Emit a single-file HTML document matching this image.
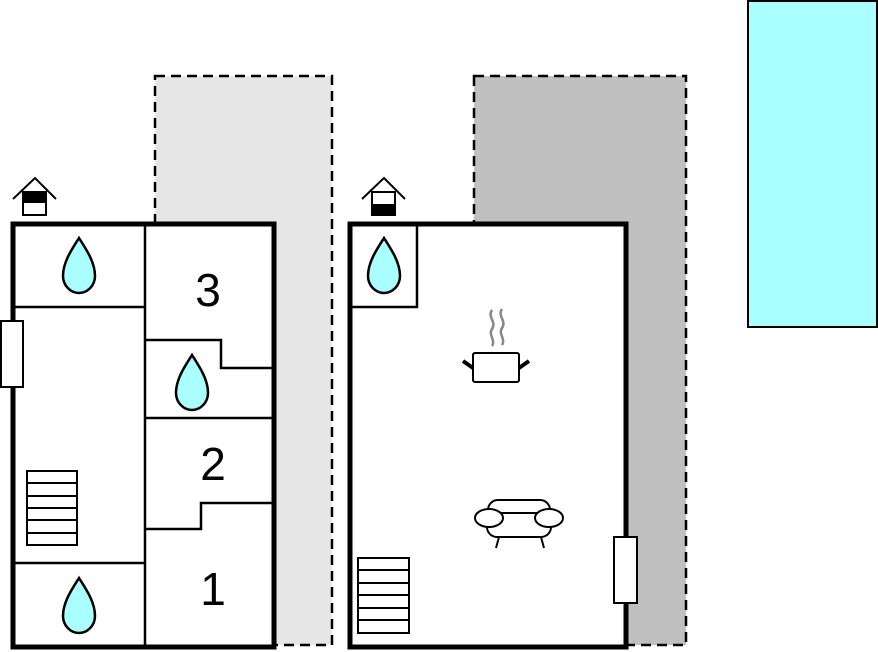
<!DOCTYPE html>
<html><head><meta charset="utf-8"><style>body{margin:0;background:#fff}svg{display:block}</style></head>
<body>
<svg width="878" height="652" viewBox="0 0 878 652" xmlns="http://www.w3.org/2000/svg">
<defs>
<path id="drop" d="M0,0 C-7,11 -16,24 -16,38 C-16,48 -8,55 0,55 C8,55 16,48 16,38 C16,24 7,11 0,0 Z" fill="#aaffff" stroke="#000" stroke-width="2.5"/>
</defs>
<!-- gray areas -->
<rect x="155" y="76" width="177" height="569" fill="#e6e6e6" stroke="#000" stroke-width="2.5" stroke-dasharray="10,6"/>
<rect x="474" y="76" width="212" height="569" fill="#c0c0c0" stroke="#000" stroke-width="2.5" stroke-dasharray="10,6"/>
<rect x="748" y="1" width="129" height="326" fill="#aaffff" stroke="#000" stroke-width="2"/>

<!-- left building -->
<rect x="13" y="224" width="261" height="423" fill="#fff" stroke="#000" stroke-width="5"/>
<g stroke="#000" stroke-width="2.5" fill="none">
<line x1="145" y1="224" x2="145" y2="647"/>
<line x1="13" y1="307" x2="145" y2="307"/>
<polyline points="145,340 221,340 221,368 274,368"/>
<line x1="145" y1="418" x2="274" y2="418"/>
<polyline points="145,529 201,529 201,503 274,503"/>
<line x1="13" y1="563" x2="145" y2="563"/>
</g>
<use href="#drop" x="79" y="238"/>
<use href="#drop" x="192" y="355"/>
<use href="#drop" x="79" y="578"/>
<g font-family="Liberation Sans, sans-serif" font-size="46" text-anchor="middle" fill="#000">
<text x="208" y="306">3</text>
<text x="213" y="480">2</text>
<text x="213" y="605">1</text>
</g>
<g stroke="#000" stroke-width="2" fill="#fff">
<rect x="27" y="471" width="50" height="74"/>
<line x1="27" y1="483" x2="77" y2="483"/><line x1="27" y1="496" x2="77" y2="496"/><line x1="27" y1="508" x2="77" y2="508"/><line x1="27" y1="520" x2="77" y2="520"/><line x1="27" y1="533" x2="77" y2="533"/>
<rect x="1" y="321" width="22" height="66"/>
</g>
<!-- left house icon -->
<polyline points="13,199 35,178 56,199" fill="none" stroke="#000" stroke-width="2"/>
<rect x="23" y="192" width="23" height="23" fill="#fff" stroke="#000" stroke-width="2"/>
<rect x="23" y="192" width="23" height="11" fill="#000"/>

<!-- right building -->
<rect x="350" y="224" width="276" height="423" fill="#fff" stroke="#000" stroke-width="5"/>
<polyline points="350,307 417,307 417,224" fill="none" stroke="#000" stroke-width="2.5"/>
<use href="#drop" x="384" y="238"/>
<g stroke="#000" stroke-width="2" fill="#fff">
<rect x="358" y="558" width="51" height="75"/>
<line x1="358" y1="570" x2="409" y2="570"/><line x1="358" y1="583" x2="409" y2="583"/><line x1="358" y1="595" x2="409" y2="595"/><line x1="358" y1="608" x2="409" y2="608"/><line x1="358" y1="620" x2="409" y2="620"/>
<rect x="614" y="537" width="23" height="66"/>
</g>
<!-- pot -->
<path d="M492,310 c-5,7 5,12 0,19 c-4,6 4,11 0,17 M502,309 c-5,7 5,12 0,19 c-4,6 4,11 0,17" stroke="#888" stroke-width="2.5" fill="none"/>
<rect x="473" y="353" width="46" height="29" rx="2" fill="#fff" stroke="#000" stroke-width="2"/>
<line x1="463" y1="361" x2="473" y2="368" stroke="#000" stroke-width="4"/>
<line x1="529" y1="361" x2="519" y2="368" stroke="#000" stroke-width="4"/>
<!-- sofa -->
<g stroke="#000" stroke-width="2" fill="#fff">
<rect x="488" y="500" width="62" height="24" rx="10"/>
<rect x="487" y="513" width="64" height="24" rx="10"/>
<ellipse cx="489" cy="518" rx="14" ry="9"/>
<ellipse cx="549" cy="518" rx="14" ry="9"/>
<line x1="499" y1="537" x2="496" y2="548"/>
<line x1="541" y1="537" x2="544" y2="548"/>
</g>
<!-- right house icon -->
<polyline points="362,199 384,178 405,199" fill="none" stroke="#000" stroke-width="2"/>
<rect x="372" y="192" width="23" height="23" fill="#fff" stroke="#000" stroke-width="2"/>
<rect x="372" y="204" width="23" height="11" fill="#000"/>
</svg>
</body></html>
